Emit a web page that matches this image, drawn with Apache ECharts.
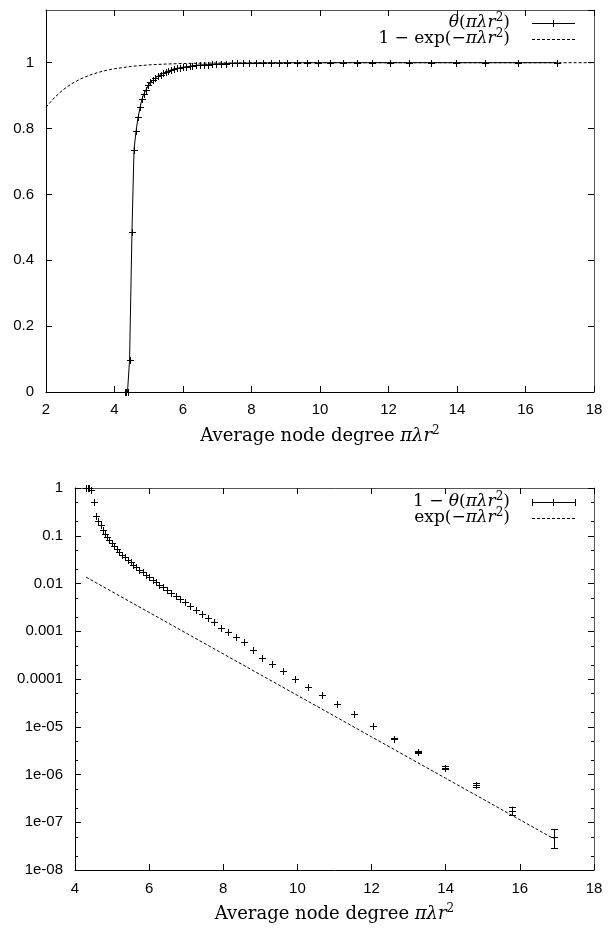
<!DOCTYPE html>
<html><head><meta charset="utf-8">
<script src="https://cdn.jsdelivr.net/npm/echarts@6/dist/echarts.min.js"></script>
<style>html,body{margin:0;padding:0;background:#fff}#c{width:611px;height:932px}</style>
</head><body><div id="c"></div>
<script>
// ---- data ----
const degree = [4.30,4.34,4.38,4.44,4.51,4.57,4.63,4.69,4.75,4.80,4.86,4.92,4.99,5.05,5.12,5.19,5.27,5.35,5.42,5.50,5.57,5.65,5.73,5.83,5.92,6.00,6.10,6.19,6.27,6.38,6.49,6.60,6.72,6.84,6.97,7.10,7.26,7.42,7.58,7.75,7.94,8.14,8.34,8.56,8.79,9.05,9.32,9.62,9.93,10.29,10.66,11.08,11.53,12.04,12.61,13.24,13.98,14.81,15.79,16.91];
const theta = [0,0,0,0.097,0.486,0.736,0.793,0.835,0.866,0.889,0.906,0.918,0.931,0.940,0.947,0.954,0.960,0.964,0.968,0.972,0.975,0.978,0.981,0.983,0.985,0.986,0.988,0.989,0.991,0.992,0.993,0.994,0.9945,0.9953,0.996,0.9967,0.9973,0.9978,0.9982,0.9985,0.9988,0.9990,0.9993,0.9994,0.9996,0.9997,0.9998,0.9999,0.9999,0.9999,1,1,1,1,1,1,1,1,1,1];
const oneMinusTheta = [1,1,1,0.903,0.514,0.264,0.207,0.165,0.134,0.111,0.0944,0.0817,0.0693,0.0600,0.0529,0.0457,0.0402,0.0360,0.0316,0.0282,0.0248,0.0222,0.0195,0.0174,0.0153,0.0137,0.0120,0.01054,0.00944,0.00828,0.00731,0.00641,0.00555,0.00473,0.00402,0.00331,0.00273,0.00225,0.00185,0.00153,0.00118,0.000977,0.000741,0.000603,0.000400,0.000274,0.000205,0.000144,0.000101,6.85e-5,4.59e-5,2.98e-5,1.84e-5,1.04e-5,5.66e-6,2.94e-6,1.40e-6,5.97e-7,1.73e-7,4.99e-8];
const errDegree = [12.61,13.24,13.98,14.81,15.79,16.91];
const errLow = [5.5e-6,2.8e-6,1.3e-6,5.5e-7,1.42e-7,2.85e-8];
const errHigh = [5.85e-6,3.1e-6,1.5e-6,6.5e-7,2.12e-7,7.24e-8];
const refDegreeTop = [2,2.25,2.5,2.75,3,3.25,3.5,3.75,4,4.5,5,5.5,6,6.5,7,8,9,10,12,14,16,18];
const refOneMinusExp = [0.8647,0.8946,0.9179,0.9361,0.9502,0.9612,0.9698,0.9765,0.9817,0.9889,0.9933,0.9959,0.9975,0.9985,0.9991,0.9997,0.9999,1,1,1,1,1];
const refDegreeBottom = [4.30,6,8,10,12,14,16,16.91];
const refExp = [0.01357,0.00248,0.000335,4.54e-5,6.14e-6,8.32e-7,1.13e-7,4.53e-8];
const logTickLabels = ['1e-08','1e-07','1e-06','1e-05','0.0001','0.001','0.01','0.1','1'];
const minorTickValues = [2e-8,5e-8,2e-7,5e-7,2e-6,5e-6,2e-5,5e-5,2e-4,5e-4,2e-3,5e-3,2e-2,5e-2,0.2,0.5];
const xLabel = 'Average node degree {it|πλr}{sup|2}';

// ---- styling ----
const SERIF = 'DejaVu Serif';
const SANS = 'Liberation Sans';
const richMath = (fs) => ({
  it: {fontFamily: SERIF, fontStyle: 'italic', fontSize: fs, color: '#000', fill: '#000'},
  sup: {fontFamily: SERIF, fontSize: Math.round(fs * 0.68), padding: [0, 0, 10, 0], color: '#000', fill: '#000'},
  n: {fontFamily: SERIF, fontSize: fs, color: '#000', fill: '#000'}
});

const chart = echarts.init(document.getElementById('c'), null, {renderer: 'canvas'});

const crisp = v => Math.round(v) + 0.5;
function plusItem(params, api) {
  const p = api.coord([api.value(0), api.value(1)]);
  const x = crisp(p[0]), y = crisp(p[1]), h = 3.5;
  return {type: 'group', children: [
    {type: 'line', shape: {x1: x - h, y1: y, x2: x + h, y2: y}, style: {stroke: '#000', lineWidth: 1}},
    {type: 'line', shape: {x1: x, y1: y - h, x2: x, y2: y + h}, style: {stroke: '#000', lineWidth: 1}}
  ]};
}
function errItem(params, api) {
  const a = api.coord([api.value(0), api.value(1)]);
  const b = api.coord([api.value(0), api.value(2)]);
  const x = crisp(a[0]), h = 3.5;
  return {type: 'group', children: [
    {type: 'line', shape: {x1: x, y1: a[1], x2: x, y2: b[1]}, style: {stroke: '#000', lineWidth: 1}},
    {type: 'line', shape: {x1: x - h, y1: crisp(a[1]), x2: x + h, y2: crisp(a[1])}, style: {stroke: '#000', lineWidth: 1}},
    {type: 'line', shape: {x1: x - h, y1: crisp(b[1]), x2: x + h, y2: crisp(b[1])}, style: {stroke: '#000', lineWidth: 1}}
  ]};
}
const BOTTOM_XMIN = 4;
function minorTickItem(params, api) {
  const cs = params.coordSys;
  const y = crisp(api.coord([BOTTOM_XMIN, api.value(0)])[1]);
  const L = 3;
  return {type: 'group', children: [
    {type: 'line', shape: {x1: cs.x, y1: y, x2: cs.x + L, y2: y}, style: {stroke: '#000', lineWidth: 1}},
    {type: 'line', shape: {x1: cs.x + cs.width - L, y1: y, x2: cs.x + cs.width, y2: y}, style: {stroke: '#000', lineWidth: 1}}
  ]};
}

const axisLineMain = {show: true, onZero: false, lineStyle: {color: '#000', width: 1}};
const axisLineMirror = {show: true, onZero: false, lineStyle: {color: '#555', width: 1}};
const tickIn = {show: true, inside: true, length: 6, lineStyle: {color: '#000', width: 1}};
const labelStyle = {color: '#000', fontFamily: SANS, fontSize: 15};
const nameStyle = {color: '#000', fontFamily: SERIF, fontSize: 18, rich: richMath(18)};

const pairs = (xs, ys) => xs.map((x, i) => [x, ys[i]]);

const option = {
  animation: false,
  backgroundColor: '#fff',
  grid: [
    {left: 46, top: 10, width: 548, height: 382, outerBoundsMode: 'none', containLabel: false},
    {left: 75, top: 488, width: 519, height: 382, outerBoundsMode: 'none', containLabel: false}
  ],
  xAxis: [
    {gridIndex: 0, type: 'value', position: 'bottom', min: 2, max: 18, interval: 2,
     axisLine: axisLineMain, axisTick: tickIn, splitLine: {show: false},
     axisLabel: Object.assign({margin: 10}, labelStyle),
     name: xLabel, nameLocation: 'middle', nameGap: 33, nameTextStyle: nameStyle},
    {gridIndex: 0, type: 'value', position: 'top', min: 2, max: 18, interval: 2,
     axisLine: axisLineMirror, axisTick: tickIn, splitLine: {show: false}, axisLabel: {show: false}},
    {gridIndex: 1, type: 'value', position: 'bottom', min: 4, max: 18, interval: 2,
     axisLine: axisLineMain, axisTick: tickIn, splitLine: {show: false},
     axisLabel: Object.assign({margin: 11}, labelStyle),
     name: xLabel, nameLocation: 'middle', nameGap: 33, nameTextStyle: nameStyle},
    {gridIndex: 1, type: 'value', position: 'top', min: 4, max: 18, interval: 2,
     axisLine: axisLineMirror, axisTick: tickIn, splitLine: {show: false}, axisLabel: {show: false}}
  ],
  yAxis: [
    {gridIndex: 0, type: 'value', position: 'left', min: 0, max: 1.16, interval: 0.2,
     axisLine: axisLineMain, axisTick: tickIn, splitLine: {show: false},
     axisLabel: Object.assign({margin: 12, showMaxLabel: false}, labelStyle)},
    {gridIndex: 0, type: 'value', position: 'right', min: 0, max: 1.16, interval: 0.2,
     axisLine: axisLineMirror, axisTick: tickIn, splitLine: {show: false}, axisLabel: {show: false}},
    {gridIndex: 1, type: 'log', logBase: 10, position: 'left', min: 1e-8, max: 1, interval: 1, splitNumber: 8,
     axisLine: axisLineMain, axisTick: tickIn, splitLine: {show: false},
     axisLabel: Object.assign({margin: 12, formatter: v => logTickLabels[Math.round(Math.log10(v)) + 8]}, labelStyle)},
    {gridIndex: 1, type: 'log', logBase: 10, position: 'right', min: 1e-8, max: 1, interval: 1, splitNumber: 8,
     axisLine: axisLineMirror, axisTick: tickIn, splitLine: {show: false}, axisLabel: {show: false}}
  ],
  series: [
    {type: 'line', xAxisIndex: 0, yAxisIndex: 0, data: pairs(refDegreeTop, refOneMinusExp), showSymbol: false, symbol: 'none',
     lineStyle: {color: '#000', width: 1, type: [3, 2]}, silent: true, z: 2},
    {type: 'line', xAxisIndex: 0, yAxisIndex: 0, data: pairs(degree, theta), showSymbol: false, symbol: 'none',
     lineStyle: {color: '#000', width: 1}, silent: true, z: 3},
    {type: 'custom', xAxisIndex: 0, yAxisIndex: 0, data: pairs(degree, theta), encode: {x: 0, y: 1},
     renderItem: plusItem, silent: true, z: 4},
    {type: 'line', xAxisIndex: 2, yAxisIndex: 2, data: pairs(refDegreeBottom, refExp), showSymbol: false, symbol: 'none',
     lineStyle: {color: '#000', width: 1, type: [3, 2]}, silent: true, z: 2},
    {type: 'custom', xAxisIndex: 2, yAxisIndex: 2, data: pairs(degree, oneMinusTheta), encode: {x: 0, y: 1},
     renderItem: plusItem, silent: true, z: 4},
    {type: 'custom', xAxisIndex: 2, yAxisIndex: 2, data: errDegree.map((x, i) => [x, errLow[i], errHigh[i]]), encode: {x: 0, y: [1, 2]},
     renderItem: errItem, silent: true, z: 4},
    {type: 'custom', xAxisIndex: 2, yAxisIndex: 2, data: minorTickValues.map(v => [v]), encode: {y: 0},
     renderItem: minorTickItem, silent: true, z: 5}
  ]
};

// ---- legends (key boxes), drawn as graphics ----
function keyText(text, y, textRight) {
  return {type: 'text', x: textRight, y: y, z: 10, silent: true,
    style: {text: text, align: 'right', verticalAlign: 'middle', fontFamily: SERIF, fontSize: 17, fill: '#000', rich: richMath(17)}};
}
function keyLine(x1, x2, y, dashed) {
  return {type: 'line', z: 10, silent: true, shape: {x1: x1, y1: y + 0.5, x2: x2, y2: y + 0.5},
    style: {stroke: '#000', lineWidth: 1, lineDash: dashed ? [3, 2] : null}};
}
function keyPlus(x, y) {
  return [
    {type: 'line', z: 10, silent: true, shape: {x1: x - 3.5, y1: y + 0.5, x2: x + 3.5, y2: y + 0.5}, style: {stroke: '#000', lineWidth: 1}},
    {type: 'line', z: 10, silent: true, shape: {x1: x + 0.5, y1: y - 3, x2: x + 0.5, y2: y + 4}, style: {stroke: '#000', lineWidth: 1}}
  ];
}
function keyCap(x, y) {
  return {type: 'line', z: 10, silent: true, shape: {x1: x + 0.5, y1: y - 3, x2: x + 0.5, y2: y + 4}, style: {stroke: '#000', lineWidth: 1}};
}
const KX1 = 532, KX2 = 575, KXM = 553, KT = 510;
option.graphic = [
  keyText('{it|θ}({it|πλr}{sup|2})', 23, KT),
  keyLine(KX1, KX2, 23, false), ...keyPlus(KXM, 23),
  keyText('1 − exp(−{it|πλr}{sup|2})', 39, KT),
  keyLine(KX1, KX2, 39, true),
  keyText('1 − {it|θ}({it|πλr}{sup|2})', 502, KT),
  keyLine(KX1, KX2, 502, false), ...keyPlus(KXM, 502), keyCap(KX1, 502), keyCap(KX2, 502),
  keyText('exp(−{it|πλr}{sup|2})', 518, KT),
  keyLine(KX1, KX2, 518, true)
];

chart.setOption(option);
</script>
</body></html>
